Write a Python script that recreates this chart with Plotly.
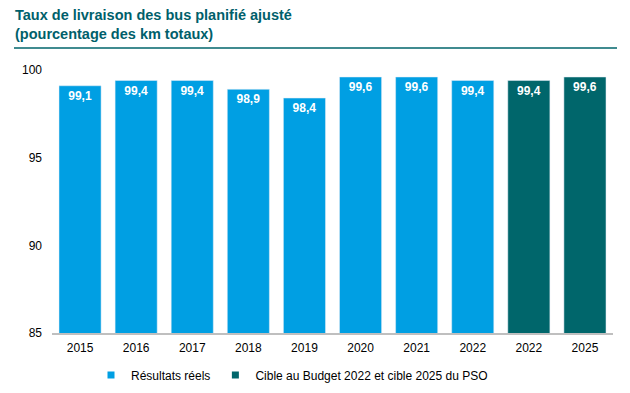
import plotly.graph_objects as go

categories = ["2015", "2016", "2017", "2018", "2019", "2020", "2021", "2022", "2022", "2025"]
actual_values = [99.1, 99.4, 99.4, 98.9, 98.4, 99.6, 99.6, 99.4, None, None]
target_values = [None, None, None, None, None, None, None, None, 99.4, 99.6]
series_names = ["Résultats réels", "Cible au Budget 2022 et cible 2025 du PSO"]
series_colors = ["#009FE3", "#00666B"]
y_ticks = [85, 90, 95, 100]

x_pos = list(range(len(categories)))
FONT = "Liberation Sans, Arial"

def fmt(v):
    return "" if v is None else f"{v:.1f}".replace(".", ",")

fig = go.Figure()
for name, vals, color in zip(series_names, [actual_values, target_values], series_colors):
    fig.add_trace(go.Bar(
        x=x_pos, y=vals, name=name, marker_color=color, showlegend=False,
        text=[fmt(v) for v in vals], textposition="inside",
        insidetextanchor="end",
        textfont=dict(color="white", size=12, family=FONT, weight="bold"),
    ))
    # legend entry with small square marker
    fig.add_trace(go.Scatter(
        x=[None], y=[None], mode="markers", name=name,
        marker=dict(symbol="square", size=7, color=color),
    ))

PLOT_TOP, PLOT_BOTTOM, PLOT_LEFT, PLOT_RIGHT = 70, 333, 52, 613
H = PLOT_BOTTOM - PLOT_TOP
W = PLOT_RIGHT - PLOT_LEFT

fig.update_layout(
    width=630, height=393,
    margin=dict(l=PLOT_LEFT, r=630 - PLOT_RIGHT, t=PLOT_TOP, b=393 - PLOT_BOTTOM, autoexpand=False),
    barmode="overlay", bargap=0.25,
    plot_bgcolor="white", paper_bgcolor="white",
    font=dict(family=FONT, size=12, color="black"),
    showlegend=True,
    legend=dict(orientation="h", x=292 / 630, xanchor="center", xref="container",
                y=1 - 375 / 393, yanchor="middle", yref="container",
                font=dict(size=12), itemwidth=30, traceorder="normal",
                tracegroupgap=0),
    uniformtext=dict(mode="show", minsize=8),
)
fig.add_annotation(
    text="<b>Taux de livraison des bus planifié ajusté<br>(pourcentage des km totaux)</b>",
    xref="paper", yref="paper", x=(13 - PLOT_LEFT) / W, y=(PLOT_BOTTOM - 5) / H,
    xanchor="left", yanchor="top", align="left", showarrow=False,
    font=dict(size=14.5, color="#005F6B", family=FONT),
)
fig.update_xaxes(tickmode="array", tickvals=x_pos, ticktext=categories,
                 range=[-0.5, len(categories) - 0.5], showgrid=False,
                 showline=True, linecolor="#BFBFBF", linewidth=2, ticks="",
                 automargin=False, ticklabelstandoff=3)
fig.update_yaxes(range=[85, 100], tickvals=y_ticks, showgrid=False, zeroline=False,
                 showline=False, ticks="", ticklabelstandoff=9, automargin=False)
fig.add_shape(type="line", xref="paper", yref="paper",
              x0=(14 - PLOT_LEFT) / W, x1=(617 - PLOT_LEFT) / W,
              y0=(PLOT_BOTTOM - 48) / H, y1=(PLOT_BOTTOM - 48) / H,
              line=dict(color="#00656B", width=1.5))

fig.write_html("out.html", config={"displayModeBar": False},
               post_script="document.body.style.margin='0';document.body.style.overflow='hidden';")
